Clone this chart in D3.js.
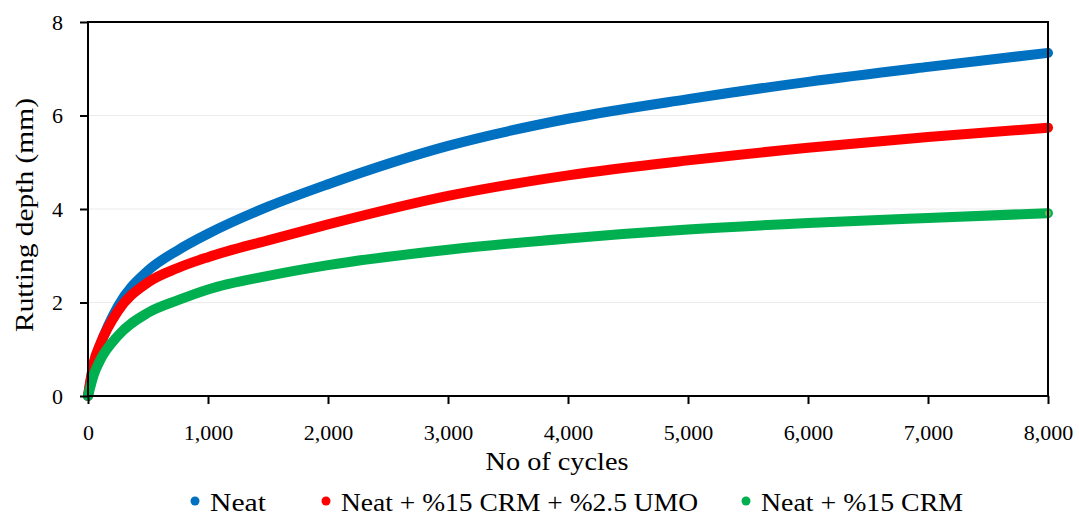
<html>
<head>
<script src="https://d3js.org/d3.v7.min.js"></script>
<style>
body { margin: 0; background: #fff; }
text { font-family: "Liberation Serif", "Times New Roman", serif; fill: #000; }
</style>
</head>
<body>
<svg width="1079" height="516"></svg>
<script>
// cycles
const cycles = [0, 50, 100, 250, 500, 750, 1000, 1500, 2000, 3000, 4000, 5000, 6000, 7000, 8000];
const neat    = [0, 0.70, 1.08, 1.92, 2.68, 3.12, 3.47, 4.05, 4.53, 5.35, 5.93, 6.35, 6.72, 7.04, 7.34];
const neatUmo = [0, 0.74, 1.10, 1.82, 2.43, 2.74, 2.97, 3.33, 3.67, 4.28, 4.72, 5.04, 5.31, 5.54, 5.74];
const neatCrm = [0, 0.47, 0.76, 1.29, 1.78, 2.05, 2.28, 2.57, 2.80, 3.13, 3.37, 3.56, 3.70, 3.81, 3.91];
const seriesNames = ["Neat", "Neat + %15 CRM + %2.5 UMO", "Neat + %15 CRM"];
const colors = ["#0070C0", "#FF0000", "#00B050"];
const xTicks = [0, 1000, 2000, 3000, 4000, 5000, 6000, 7000, 8000];
const yTicks = [0, 2, 4, 6, 8];

const svg = d3.select("svg");
const pLeft = 88, pRight = 1048, pTop = 22, pBottom = 396;

const x = d3.scaleLinear().domain([0, 8000]).range([pLeft, pRight]);
const y = d3.scaleLinear().domain([0, 8]).range([pBottom, pTop]);

// gridlines
svg.append("g").selectAll("line")
  .data(yTicks.filter(d => d > 0 && d < 8))
  .enter().append("line")
    .attr("x1", pLeft).attr("x2", pRight)
    .attr("y1", d => y(d)).attr("y2", d => y(d))
    .attr("stroke", "#ebebeb").attr("stroke-width", 1);

const line = d3.line()
  .x((d, i) => x(cycles[i]))
  .y(d => y(d))
  .curve(d3.curveMonotoneX);

[neat, neatUmo, neatCrm].forEach(function(vals, k) {
  svg.append("path")
    .attr("d", line(vals))
    .attr("fill", "none")
    .attr("stroke", colors[k])
    .attr("stroke-width", 10)
    .attr("stroke-linecap", "round")
    .attr("stroke-linejoin", "round");
});

// last marker of green series has a lighter centre
svg.append("circle")
  .attr("cx", x(cycles[cycles.length - 1]))
  .attr("cy", y(neatCrm[neatCrm.length - 1]))
  .attr("r", 3)
  .attr("fill", "#6CC04A");

// frame
svg.append("rect")
  .attr("x", pLeft).attr("y", pTop)
  .attr("width", pRight - pLeft).attr("height", pBottom - pTop)
  .attr("fill", "none").attr("stroke", "#000").attr("stroke-width", 2);

const xAxis = d3.axisBottom(x).tickValues(xTicks).tickSize(8).tickPadding(20)
  .tickFormat(d3.format(","));
const yAxis = d3.axisLeft(y).tickValues(yTicks).tickSize(8).tickPadding(17)
  .tickFormat(d3.format("d"));

const gx = svg.append("g").attr("transform", "translate(0," + pBottom + ")").call(xAxis);
const gy = svg.append("g").attr("transform", "translate(" + pLeft + ",0)").call(yAxis);
[gx, gy].forEach(function(g) {
  g.select(".domain").remove();
  g.selectAll(".tick line").attr("stroke", "#000").attr("stroke-width", 2);
  g.selectAll(".tick text").style("font-size", "22px")
    .style("font-family", "'Liberation Serif', serif");
});

svg.append("text")
  .attr("x", 557).attr("y", 470)
  .attr("text-anchor", "middle")
  .attr("textLength", 143).attr("lengthAdjust", "spacingAndGlyphs")
  .style("font-size", "25px")
  .text("No of cycles");

svg.append("text")
  .attr("transform", "translate(33,215) rotate(-90)")
  .attr("text-anchor", "middle")
  .attr("textLength", 234).attr("lengthAdjust", "spacingAndGlyphs")
  .style("font-size", "25px")
  .text("Rutting depth (mm)");

// legend
const legendX = [195, 326, 746];
const legendW = [56, 357, 202];
const leg = svg.append("g").selectAll("g")
  .data(seriesNames)
  .enter().append("g")
    .attr("transform", (d, i) => "translate(" + legendX[i] + ",501)");
leg.append("circle").attr("r", 4.5).attr("fill", (d, i) => colors[i]);
leg.append("text").attr("x", 15).attr("y", 9.5)
  .attr("textLength", (d, i) => legendW[i]).attr("lengthAdjust", "spacingAndGlyphs")
  .style("font-size", "25px")
  .text(d => d);
</script>
</body>
</html>
